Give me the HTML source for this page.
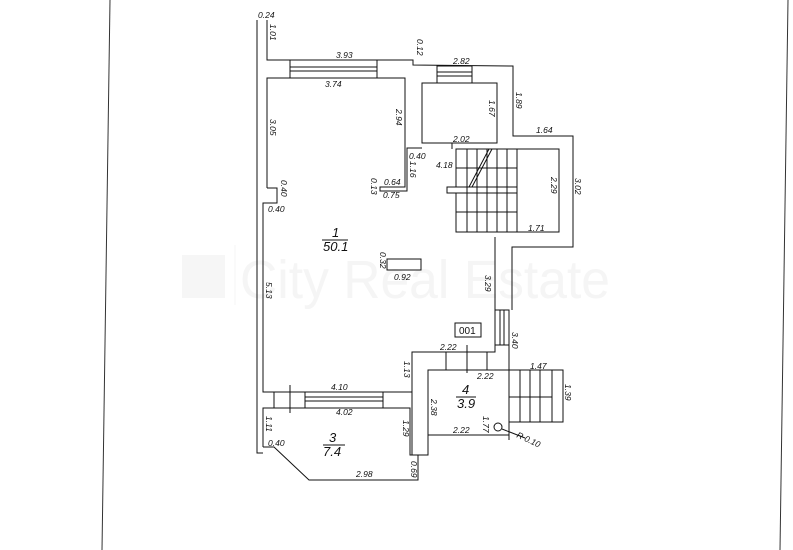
<!DOCTYPE html>
<html><head><meta charset="utf-8"><style>
html,body{margin:0;padding:0;background:#fff;}
svg{display:block;}
text{font-family:"Liberation Sans",sans-serif;font-style:italic;font-size:8.5px;fill:#111;}
.big{font-size:13px;}
.wm{font-style:normal;font-size:54px;fill:#f5f5f5;}
</style></head><body>
<svg width="793" height="550" viewBox="0 0 793 550" xmlns="http://www.w3.org/2000/svg">
<rect x="182" y="255" width="43" height="43" fill="#f6f6f6"/>
<line x1="235" y1="245" x2="235" y2="305" stroke="#f4f4f4" stroke-width="1"/>
<text class="wm" x="240" y="298" textLength="370" lengthAdjust="spacingAndGlyphs">City Real Estate</text>

<line x1="110" y1="0" x2="102" y2="550" stroke="#333" stroke-width="1"/>
<line x1="788" y1="0" x2="780" y2="550" stroke="#333" stroke-width="1"/>

<g stroke="#111" stroke-width="1" fill="none">
<polyline points="257,20 257,453 263,453"/>
<polyline points="267,20 267,60 413,60 413,65 513,66 513,136 573,136 573,247 512,247 512,310"/>
<rect x="290" y="60" width="87" height="18"/>
<line x1="290" y1="67" x2="377" y2="67"/><line x1="290" y1="71" x2="377" y2="71"/>
<polyline points="267,188 267,78 405,78 405,187 380,187 380,191 407,191 407,148 422,148"/>
<polyline points="267,188 277,188 277,203 267,203 263,203 263,392 412,392 412,352 495,352 495,237"/>
<rect x="422" y="83" width="75" height="60"/>
<rect x="437" y="66" width="35" height="17"/>
<line x1="437" y1="72" x2="472" y2="72"/><line x1="437" y1="76" x2="472" y2="76"/>
<line x1="452" y1="143" x2="452" y2="149"/>
<polyline points="456,149 559,149 559,232 497,232"/>
<rect x="456" y="149" width="61" height="38"/>
<rect x="447" y="187" width="70" height="6"/>
<rect x="456" y="193" width="61" height="39"/>
<line x1="467" y1="149" x2="467" y2="232"/><line x1="477" y1="149" x2="477" y2="232"/>
<line x1="487" y1="149" x2="487" y2="232"/><line x1="497" y1="149" x2="497" y2="232"/>
<line x1="507" y1="149" x2="507" y2="232"/>
<line x1="456" y1="168" x2="517" y2="168"/><line x1="456" y1="212" x2="517" y2="212"/>
<line x1="489" y1="149" x2="469" y2="187"/><line x1="492" y1="149" x2="472" y2="187"/>
<polyline points="495,310 509,310 509,440"/>
<line x1="495" y1="345" x2="509" y2="345"/>
<line x1="500" y1="310" x2="500" y2="345"/><line x1="504" y1="310" x2="504" y2="345"/>
<polyline points="509,370 428,370 428,455 412,455 412,392"/>
<line x1="428" y1="435" x2="509" y2="435"/>
<line x1="446" y1="352" x2="446" y2="370"/><line x1="487" y1="352" x2="487" y2="370"/>
<line x1="467" y1="345" x2="467" y2="373"/>
<rect x="455" y="323" width="26" height="14"/>
<circle cx="498" cy="427" r="4"/>
<line x1="502" y1="429" x2="525" y2="438"/>
<polyline points="509,370 563,370 563,422 509,422"/>
<line x1="520" y1="370" x2="520" y2="422"/><line x1="530" y1="370" x2="530" y2="422"/>
<line x1="540" y1="370" x2="540" y2="422"/><line x1="552" y1="370" x2="552" y2="422"/>
<line x1="509" y1="397" x2="552" y2="397"/>
<rect x="305" y="392" width="78" height="16"/>
<line x1="305" y1="397" x2="383" y2="397"/><line x1="305" y1="401" x2="383" y2="401"/>
<line x1="274" y1="392" x2="274" y2="408"/><line x1="290" y1="385" x2="290" y2="413"/>
<polyline points="263,447 263,408 410,408 410,455 418,455 418,480 309,480 274,447 263,447"/>
<rect x="387" y="259" width="34" height="11"/>
</g>

<text x="258" y="18">0.24</text>
<text x="270" y="24" transform="rotate(90 270 24)">1.01</text>
<text x="336" y="58">3.93</text>
<text x="417" y="39" transform="rotate(90 417 39)">0.12</text>
<text x="453" y="64">2.82</text>
<text x="325" y="87">3.74</text>
<text x="270" y="119" transform="rotate(90 270 119)">3.05</text>
<text x="396" y="109" transform="rotate(90 396 109)">2.94</text>
<text x="516" y="92" transform="rotate(90 516 92)">1.89</text>
<text x="489" y="100" transform="rotate(90 489 100)">1.67</text>
<text x="536" y="133">1.64</text>
<text x="453" y="142">2.02</text>
<text x="409" y="159">0.40</text>
<text x="410" y="161" transform="rotate(90 410 161)">1.16</text>
<text x="436" y="168">4.18</text>
<text x="384" y="185">0.64</text>
<text x="371" y="178" transform="rotate(90 371 178)">0.13</text>
<text x="383" y="198">0.75</text>
<text x="551" y="177" transform="rotate(90 551 177)">2.29</text>
<text x="575" y="178" transform="rotate(90 575 178)">3.02</text>
<text x="528" y="231">1.71</text>
<text x="281" y="180" transform="rotate(90 281 180)">0.40</text>
<text x="268" y="212">0.40</text>
<text class="big" x="332" y="237">1</text>
<line x1="322" y1="240" x2="348" y2="240" stroke="#111"/>
<text class="big" x="323" y="251">50.1</text>
<text x="380" y="252" transform="rotate(90 380 252)">0.32</text>
<text x="394" y="280">0.92</text>
<text x="266" y="282" transform="rotate(90 266 282)">5.13</text>
<text x="485" y="275" transform="rotate(90 485 275)">3.29</text>
<text style="font-style:normal;font-size:10px" x="459" y="334">001</text>
<text x="512" y="332" transform="rotate(90 512 332)">3.40</text>
<text x="440" y="350">2.22</text>
<text x="404" y="361" transform="rotate(90 404 361)">1.13</text>
<text x="477" y="379">2.22</text>
<text x="530" y="369">1.47</text>
<text x="565" y="384" transform="rotate(90 565 384)">1.39</text>
<text class="big" x="462" y="394">4</text>
<line x1="456" y1="397" x2="476" y2="397" stroke="#111"/>
<text class="big" x="457" y="408">3.9</text>
<text x="331" y="390">4.10</text>
<text x="336" y="415">4.02</text>
<text x="431" y="399" transform="rotate(90 431 399)">2.38</text>
<text x="266" y="416" transform="rotate(90 266 416)">1.11</text>
<text x="403" y="420" transform="rotate(90 403 420)">1.29</text>
<text x="453" y="433">2.22</text>
<text x="483" y="416" transform="rotate(90 483 416)">1.77</text>
<text x="516" y="437" transform="rotate(25 516 437)">R 0.10</text>
<text class="big" x="329" y="442">3</text>
<line x1="323" y1="445" x2="345" y2="445" stroke="#111"/>
<text class="big" x="323" y="456">7.4</text>
<text x="268" y="446">0.40</text>
<text x="411" y="461" transform="rotate(90 411 461)">0.69</text>
<text x="356" y="477">2.98</text>
</svg>
</body></html>
